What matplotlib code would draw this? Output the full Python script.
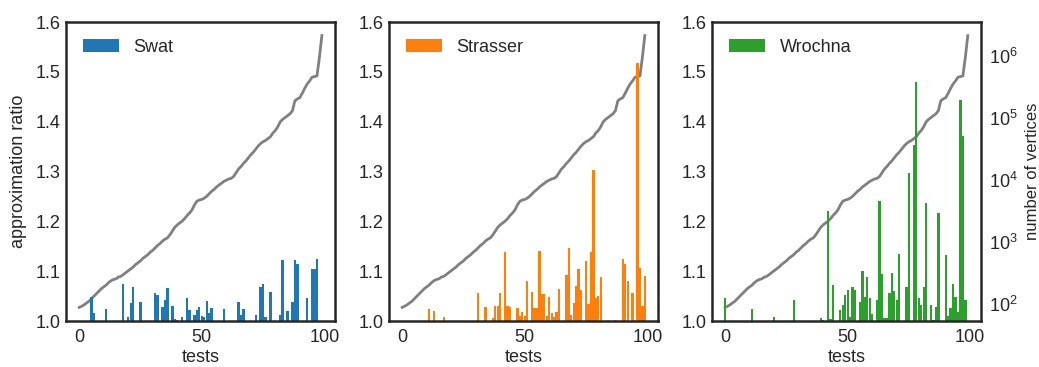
import numpy as np
import matplotlib
matplotlib.use("Agg")
import matplotlib.pyplot as plt

plt.rcParams['font.family'] = ['Liberation Sans', 'DejaVu Sans']

n_tests = 100
methods = ["Swat", "Strasser", "Wrochna"]
colors = ["#1f77b4", "#ff7f0e", "#2ca02c"]

vertices = [89, 93, 98, 105, 112, 123, 135, 148, 162, 178,
            191, 204, 224, 240, 251, 257, 275, 282, 302, 324,
            347, 372, 398, 437, 468, 501, 550, 589, 631, 692,
            741, 813, 891, 955, 1047, 1122, 1175, 1318, 1514, 1738,
            1905, 2042, 2188, 2399, 2692, 2951, 3311, 3981, 4571, 4786,
            4898, 5129, 5495, 6026, 6607, 7079, 7762, 8318, 8913, 9550,
            10000, 10471, 10715, 11482, 13183, 15136, 16596, 18621, 20417, 22909,
            25704, 28184, 31623, 35481, 38905, 41687, 43652, 46774, 50119, 57544,
            63096, 72444, 87096, 95499, 102329, 109648, 117490, 131826, 190546, 204174,
            213796, 251189, 301995, 354813, 398107, 457088, 467735, 478630, 954993, 2137962]

swat_idx = [5, 6, 11, 18, 20, 21, 22, 25, 31, 32, 34, 35, 36, 38, 39, 40, 42, 44, 45,
            47, 48, 49, 50, 51, 52, 53, 54, 59, 65, 66, 67, 72, 74, 75, 76, 78, 82, 83,
            85, 87, 88, 89, 93, 95, 96, 97]
swat_val = [1.048, 1.017, 1.024, 1.074, 1.008, 1.036, 1.068, 1.038, 1.056, 1.052, 1.028,
            1.042, 1.066, 1.030, 1.005, 1.002, 1.008, 1.046, 1.022, 1.012, 1.022, 1.028,
            1.010, 1.008, 1.040, 1.017, 1.026, 1.024, 1.038, 1.012, 1.024, 1.012, 1.068,
            1.074, 1.008, 1.058, 1.012, 1.122, 1.020, 1.038, 1.122, 1.114, 1.046, 1.104,
            1.104, 1.124]

strasser_idx = [11, 13, 17, 31, 34, 37, 38, 39, 40, 42, 43, 44, 47, 48, 49, 50, 51, 53,
                54, 55, 56, 57, 58, 59, 60, 61, 62, 63, 64, 67, 68, 69, 70, 71, 72, 73,
                75, 76, 77, 78, 79, 80, 81, 84, 87, 90, 91, 92, 94, 96, 97, 98, 99]
strasser_val = [1.025, 1.021, 1.009, 1.057, 1.029, 1.007, 1.031, 1.031, 1.057, 1.139,
                1.031, 1.029, 1.027, 1.011, 1.019, 1.011, 1.081, 1.058, 1.027, 1.027,
                1.141, 1.054, 1.054, 1.011, 1.049, 1.017, 1.009, 1.019, 1.065, 1.093,
                1.147, 1.013, 1.037, 1.071, 1.105, 1.063, 1.121, 1.035, 1.139, 1.304,
                1.047, 1.051, 1.089, 1.003, 1.003, 1.125, 1.115, 1.081, 1.057, 1.517,
                1.107, 1.031, 1.091]

wrochna_idx = [0, 11, 20, 28, 39, 40, 42, 43, 44, 47, 48, 49, 50, 51, 52, 53, 55, 56,
               57, 58, 59, 60, 62, 63, 64, 65, 66, 67, 68, 69, 70, 71, 74, 75, 77, 78,
               79, 80, 81, 82, 84, 85, 86, 87, 90, 91, 92, 93, 94, 95, 96, 97, 98]
wrochna_val = [1.046, 1.024, 1.008, 1.042, 1.006, 1.002, 1.221, 1.004, 1.072, 1.022,
               1.032, 1.052, 1.062, 1.008, 1.068, 1.062, 1.038, 1.100, 1.048, 1.088,
               1.046, 1.014, 1.042, 1.241, 1.094, 1.006, 1.006, 1.056, 1.096, 1.060,
               1.042, 1.135, 1.068, 1.297, 1.353, 1.480, 1.046, 1.032, 1.068, 1.237,
               1.032, 1.002, 1.028, 1.217, 1.133, 1.010, 1.026, 1.074, 1.048, 1.018,
               1.444, 1.371, 1.042]

x_ticks = [0, 50, 100]
y_ticks = [1.0, 1.1, 1.2, 1.3, 1.4, 1.5, 1.6]

series = [(swat_idx, swat_val), (strasser_idx, strasser_val), (wrochna_idx, wrochna_val)]

text_c = "#262626"
fs = 13
fig, axes = plt.subplots(1, 3, figsize=(10.39, 3.67), dpi=100)
fig.subplots_adjust(left=0.0635, right=0.9442, bottom=0.1253, top=0.940, wspace=0.2)

tests = np.arange(n_tests)
for i, (ax, name, col, (idx, val)) in enumerate(zip(axes, methods, colors, series)):
    ratios = np.ones(n_tests)
    ratios[idx] = val
    ax.bar(tests, ratios, width=0.95, color=col, label=name, linewidth=0)
    ax.set_ylim(1.0, 1.6)
    ax.set_yticks(y_ticks)
    ax.set_yticklabels([f"{v:.1f}" for v in y_ticks])
    ax.set_xticks(x_ticks)
    ax.set_xlabel("tests", fontsize=fs, color=text_c, labelpad=2)
    ax.tick_params(axis="y", length=0, labelsize=fs, colors=text_c, pad=4)
    ax.tick_params(axis="x", length=0, labelsize=fs, colors=text_c, pad=6)
    for s in ax.spines.values():
        s.set_color(text_c)
        s.set_linewidth(1.8)
    ax2 = ax.twinx()
    ax2.plot(tests, vertices, color="gray", lw=2)
    ax2.set_yscale("log")
    ax2.tick_params(which="both", length=0, labelsize=fs, colors=text_c, pad=6)
    if i < 2:
        ax2.set_yticklabels([])
        ax2.yaxis.set_ticklabels([], minor=True)
    else:
        ax2.set_ylabel("number of vertices", fontsize=12, color=text_c, labelpad=5)
    for s in ax2.spines.values():
        s.set_visible(False)
    leg = ax.legend(loc="upper left", frameon=False, fontsize=fs,
                    handlelength=2.0, handleheight=0.75, handletextpad=0.8,
                    borderaxespad=0.55)
    for t in leg.get_texts():
        t.set_color(text_c)
    ax.set_xlim(-5.4, 104.4)
    ax.set_zorder(ax2.get_zorder() + 1)
    ax.patch.set_visible(False)

axes[0].set_ylabel("approximation ratio", fontsize=fs, color=text_c, labelpad=6)

fig.savefig("out.png", dpi=100, facecolor="white")
